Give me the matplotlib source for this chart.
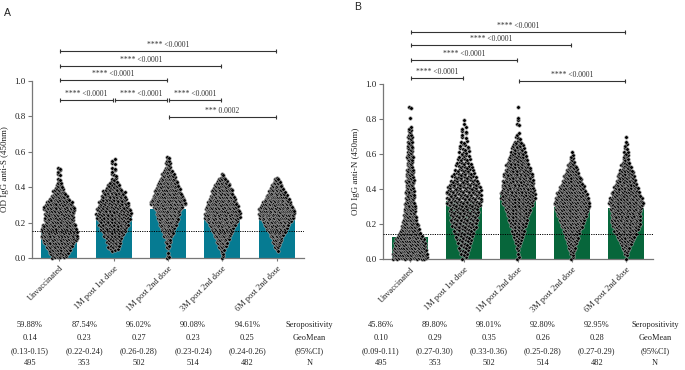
import matplotlib
matplotlib.use("Agg")
import matplotlib.pyplot as plt
import matplotlib.transforms as mtransforms
import numpy as np

plt.rcParams['font.family'] = ['Liberation Serif', 'DejaVu Serif']

groups = ["Unvaccinated", "1M post 1st dose", "1M post 2nd dose",
          "3M post 2nd dose", "6M post 2nd dose"]
bin_width = 0.02  # OD bin size used for the point counts below

# anti-S: number of samples per 0.02 OD bin, first bin = 0.00-0.02
s_unvacc = [13, 17, 21, 24, 29, 33, 33, 33, 32, 30, 27, 26, 27, 28, 28, 24,
            19, 14, 11, 8, 5, 3, 2, 2, 2, 2]
s_1m_1st = [0, 0, 7, 8, 10, 12, 15, 17, 20, 22, 23, 25, 27, 26, 23, 22, 20,
            18, 17, 12, 9, 5, 3, 3, 2, 2, 2, 2]
s_1m_2nd = [3, 1, 1, 3, 4, 6, 10, 13, 16, 20, 23, 25, 28, 30, 35, 43, 40, 35,
            32, 29, 25, 21, 18, 14, 10, 6, 4, 3, 2]
s_3m_2nd = [2, 2, 5, 8, 12, 16, 19, 22, 26, 30, 36, 42, 42, 40, 37, 34, 31,
            28, 24, 22, 17, 12, 7, 2]
s_6m_2nd = [0, 0, 3, 5, 9, 12, 16, 20, 26, 30, 36, 43, 45, 45, 40, 35, 31, 26,
            20, 16, 12, 8, 4]
s_bars = [0.14, 0.24, 0.275, 0.235, 0.255]
s_cutoff = 0.15

# anti-N
n_unvacc = [38, 37, 35, 33, 32, 30, 26, 22, 20, 18, 16, 14, 13, 12, 11, 10,
            9, 8, 8, 8, 7, 7, 8, 7, 7, 6, 5, 5, 5, 6, 5, 4, 4, 4, 4, 3, 3, 2,
            0, 0, 1, 0, 0, 2]
n_1m_1st = [2, 3, 4, 5, 6, 7, 8, 9, 10, 12, 13, 14, 14, 15, 14, 17, 18, 18,
            18, 18, 17, 15, 14, 12, 10, 9, 8, 7, 6, 5, 5, 4, 4, 3, 2, 2, 2, 2,
            1, 1]
n_1m_2nd = [2, 1, 1, 2, 3, 5, 6, 8, 9, 11, 13, 14, 16, 18, 20, 23, 25, 27, 28,
            26, 25, 25, 24, 22, 22, 20, 19, 17, 15, 13, 11, 9, 8, 5, 3, 2, 0,
            0, 2, 1, 1, 0, 0, 1]
n_3m_2nd = [2, 2, 4, 6, 8, 10, 12, 15, 17, 20, 23, 25, 28, 30, 32, 34, 35, 32,
            30, 27, 24, 21, 18, 16, 13, 11, 8, 5, 3, 2, 1]
n_6m_2nd = [1, 2, 4, 6, 9, 12, 14, 18, 20, 22, 24, 25, 25, 25, 26, 28, 30, 27,
            24, 22, 20, 18, 16, 14, 12, 10, 8, 6, 4, 4, 3, 2, 2, 1, 1]
n_bars = [0.13, 0.335, 0.365, 0.30, 0.295]
n_cutoff = 0.143

# table under the panels
row_labels = ["Seropositivity", "GeoMean", "(95%CI)", "N"]
s_seropos = ["59.88%", "87.54%", "96.02%", "90.08%", "94.61%"]
s_geomean = ["0.14", "0.23", "0.27", "0.23", "0.25"]
s_ci = ["(0.13-0.15)", "(0.22-0.24)", "(0.26-0.28)", "(0.23-0.24)", "(0.24-0.26)"]
n_seropos = ["45.86%", "89.80%", "98.01%", "92.80%", "92.95%"]
n_geomean = ["0.10", "0.29", "0.35", "0.26", "0.28"]
n_ci = ["(0.09-0.11)", "(0.27-0.30)", "(0.33-0.36)", "(0.25-0.28)", "(0.27-0.29)"]
sizes = ["495", "353", "502", "514", "482"]

# significance brackets: (group a, group b, height, label)
s_brackets = [(0, 4, 1.167, "**** <0.0001"), (0, 3, 1.084, "**** <0.0001"),
              (0, 2, 1.003, "**** <0.0001"), (0, 1, 0.89, "**** <0.0001"),
              (1, 2, 0.89, "**** <0.0001"), (2, 3, 0.89, "**** <0.0001"),
              (2, 4, 0.795, "*** 0.0002")]
n_brackets = [(0, 4, 1.299, "**** <0.0001"), (0, 3, 1.223, "**** <0.0001"),
              (0, 2, 1.135, "**** <0.0001"), (0, 1, 1.036, "**** <0.0001"),
              (2, 4, 1.019, "**** <0.0001")]


def swarm_xy(counts, center, max_w=0.64):
    # points of a bin go side by side; their height inside the bin follows a
    # golden-ratio sequence so the swarm has no regular stripes
    top = max(counts)
    xs, ys = [], []
    for i, n in enumerate(counts):
        if n == 0:
            continue
        w = max_w * n / top
        y0 = i * bin_width
        xpos = np.linspace(-w / 2, w / 2, n) if n > 1 else np.array([0.0])
        for k, x in enumerate(xpos):
            frac = (k * 0.618034 + i * 0.381966) % 1.0
            xs.append(center + x)
            ys.append(y0 + (0.1 + 0.8 * frac) * bin_width)
    return xs, ys


fig = plt.figure(figsize=(6.85, 3.7), dpi=100)
H = 370.0
W = 685.0

ax1 = fig.add_axes([32 / W, (H - 258) / H, 272 / W, 177 / H])
ax2 = fig.add_axes([383 / W, (H - 259.3) / H, 270 / W, 175.3 / H])

panels = [
    (ax1, [s_unvacc, s_1m_1st, s_1m_2nd, s_3m_2nd, s_6m_2nd], s_bars, s_cutoff,
     '#067b92', "OD IgG anti-S (450nm)", s_brackets,
     [s_seropos, s_geomean, s_ci, sizes], 4.6),
    (ax2, [n_unvacc, n_1m_1st, n_1m_2nd, n_3m_2nd, n_6m_2nd], n_bars, n_cutoff,
     '#07663b', "OD IgG anti-N (450nm)", n_brackets,
     [n_seropos, n_geomean, n_ci, sizes], 4.54),
]

table_y = [325, 338, 351, 363]
axis_col = '#777777'
ink = '#222222'

for ax, swarms, bars, cutoff, color, ylabel, brackets, table, lab_x in panels:
    x = np.arange(len(groups))
    ax.bar(x, bars, width=0.66, color=color, zorder=1)
    for i, counts in enumerate(swarms):
        xs, ys = swarm_xy(counts, i)
        ax.scatter(xs, ys, s=6.5, c='black', edgecolors='#ababab',
                   linewidths=0.4, zorder=3, clip_on=False)
    ax.axhline(cutoff, color='black', ls=(0, (1.2, 1.2)), lw=0.7, zorder=4)

    ax.set_xlim(-0.5, 4.5)
    ax.set_ylim(0, 1.0)
    ax.set_yticks([0, 0.2, 0.4, 0.6, 0.8, 1.0])
    ax.set_yticklabels(["%.1f" % v for v in [0, 0.2, 0.4, 0.6, 0.8, 1.0]])
    ax.set_xticks(x)
    ax.set_xticklabels(groups, rotation=45, ha='right', rotation_mode='anchor')
    ax.tick_params(axis='y', labelsize=6.5, length=3, width=0.8,
                   color=axis_col, labelcolor=ink, pad=1.5)
    ax.tick_params(axis='x', labelsize=6, length=2.5, width=0.8,
                   color=axis_col, labelcolor=ink, pad=2)
    ax.set_ylabel(ylabel, fontsize=6.5, color=ink, labelpad=4)
    for side in ['top', 'right']:
        ax.spines[side].set_visible(False)
    for side in ['left', 'bottom']:
        ax.spines[side].set_color(axis_col)
        ax.spines[side].set_linewidth(0.9)
    ax.spines['left'].set_bounds(0, 1.0)

    for a, b, h, label in brackets:
        ax.plot([a + 0.02, b - 0.02], [h, h], color='#333333', lw=0.8,
                marker='|', ms=3, mew=0.8, clip_on=False, zorder=5)
        ax.annotate(label, ((a + b) / 2, h), xytext=(0, 1.5),
                    textcoords='offset points', ha='center', va='bottom',
                    fontsize=5.5, color='#333333', annotation_clip=False)

    trans = mtransforms.blended_transform_factory(ax.transData, fig.transFigure)
    for r, vals in enumerate(table):
        yf = 1 - table_y[r] / H
        for i, v in enumerate(vals):
            ax.text(i - 0.54, yf, v, transform=trans, ha='center', va='center',
                    fontsize=6, color=ink)
        ax.text(lab_x, yf, row_labels[r], transform=trans, ha='center',
                va='center', fontsize=6, color=ink)

fig.text(7 / W, 1 - 13 / H, "A", family='Liberation Sans', fontsize=7.5,
         ha='center', va='center', color=ink)
fig.text(358 / W, 1 - 7 / H, "B", family='Liberation Sans', fontsize=7.5,
         ha='center', va='center', color=ink)

fig.savefig("out.png", dpi=100)
